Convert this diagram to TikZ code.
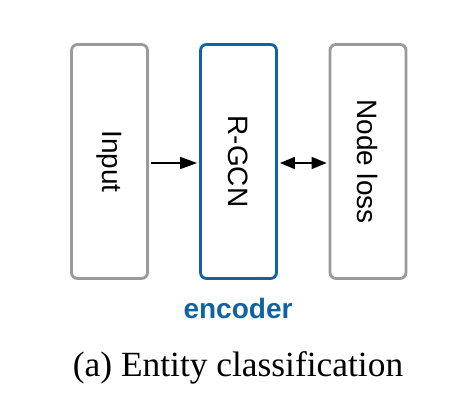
\documentclass[tikz,border=0pt]{standalone}
\usepackage{fontspec}
\setmainfont{Liberation Serif}
\setsansfont{Liberation Sans}
\usetikzlibrary{arrows.meta}
\definecolor{boxgray}{HTML}{9A9A9A}
\definecolor{encblue}{HTML}{1062A0}
\begin{document}
\begin{tikzpicture}[x=1pt,y=-1pt,
  blockbox/.style={draw=boxgray, line width=2.8pt, rounded corners=6pt,
    minimum width=76pt, minimum height=234pt, inner sep=0pt},
  blocklabel/.style={font=\sffamily\fontsize{28}{30}\selectfont, rotate=-90},
  conn/.style={line width=1.5pt, -{Triangle[length=17pt,width=12pt]}},
  dconn/.style={line width=1.5pt, {Triangle[length=15pt,width=12pt]}-{Triangle[length=15pt,width=12pt]}}]
\useasboundingbox (0,0) rectangle (462,418);
\node[blockbox] (input) at (109.5,161.5) {};
\node[blockbox, draw=encblue] (rgcn) at (238.5,161.5) {};
\node[blockbox] (loss) at (368,161.5) {};
\node[blocklabel] (tinput) at (input.center) {Input};
\node[blocklabel] (trgcn) at (rgcn.center) {R-GCN};
\node[blocklabel] (tloss) at (loss.center) {Node loss};
\draw[conn, shorten <=2pt, shorten >=2pt] (input.east |- 0,163) -- (rgcn.west |- 0,163);
\draw[dconn, shorten <=2pt, shorten >=2pt] (rgcn.east |- 0,163) -- (loss.west |- 0,163);
\node[font=\sffamily\bfseries\fontsize{28}{30}\selectfont, text=encblue, anchor=base] (enc) at (238,318) {encoder};
\node[font=\fontsize{35.4}{40}\selectfont, anchor=base] (cap) at (238,376) {(a) Entity classification};
\end{tikzpicture}
\end{document}
